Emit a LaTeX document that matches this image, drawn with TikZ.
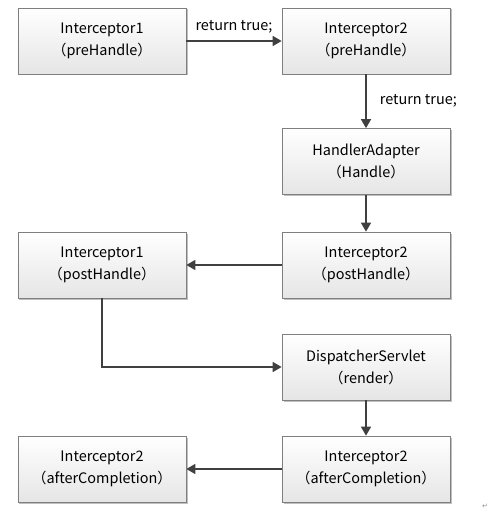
\documentclass[tikz,border=0pt]{standalone}
\usepackage{fontspec}
\setmainfont{Noto Sans CJK SC}
\newfontfamily\symfont{DejaVu Sans}
\usetikzlibrary{arrows.meta,shadows,shadings}
\definecolor{boxline}{HTML}{7F7F7F}
\definecolor{arrowc}{HTML}{404040}
\tikzset{
  box/.style={draw=boxline, line width=0.7bp, top color=white, bottom color=black!10,
    minimum width=168bp, minimum height=66bp, inner sep=0pt, align=center,
    font=\fontsize{14.5}{22}\selectfont,
    drop shadow={shadow xshift=1.5bp, shadow yshift=-1.5bp, opacity=0.25, fill=black}},
  conn/.style={draw=arrowc, line width=1.6bp, -{Triangle[length=9bp,width=10bp]}},
  lbl/.style={font=\fontsize{14.5}{16}\selectfont, inner sep=0pt}
}
\begin{document}
\begin{tikzpicture}[x=1bp,y=-1bp]
\useasboundingbox (0,0) rectangle (491,516);
\node[box] (a) at (102,41) {Interceptor1\\（preHandle）};
\node[box] (b) at (366,41) {Interceptor2\\（preHandle）};
\node[box] (c) at (366,161.5) {HandlerAdapter\\（Handle）};
\node[box] (d) at (366,265) {Interceptor2\\（postHandle）};
\node[box] (e) at (102,265) {Interceptor1\\（postHandle）};
\node[box] (f) at (366,367) {DispatcherServlet\\（render）};
\node[box] (g) at (366,469) {Interceptor2\\（afterCompletion）};
\node[box] (h) at (102,469) {Interceptor2\\（afterCompletion）};
\draw[conn] (a) -- (b) node[lbl, midway, above=7bp] {return true;};
\draw[conn] (b) -- (c) node[lbl, midway, right=13bp] {return true;};
\draw[conn] (c) -- (d);
\draw[conn] (d) -- (e);
\draw[conn] (e.south) |- (f.west);
\draw[conn] (f) -- (g);
\draw[conn] (g) -- (h);
\node[font=\symfont\fontsize{7}{7}\selectfont, text=black!45, inner sep=0pt] (p) at (485,506) {↵};
\end{tikzpicture}
\end{document}
